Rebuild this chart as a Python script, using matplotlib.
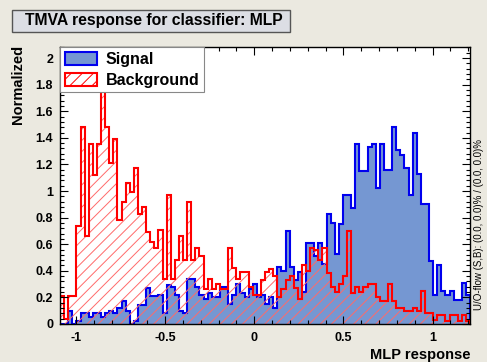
import numpy as np
import matplotlib.pyplot as plt
from matplotlib.patches import Patch, Rectangle
from matplotlib.ticker import MultipleLocator, FuncFormatter

plt.rcParams['font.family'] = ['Liberation Sans', 'DejaVu Sans']
plt.rcParams['font.weight'] = 'bold'
plt.rcParams['axes.unicode_minus'] = False
plt.rcParams['hatch.linewidth'] = 0.7

# MLP output, 100 bins, each histogram normalised to unit area
x_lo, x_hi = -1.09, 1.21
n_bins = 100

signal = [
    0.00, 0.00, 0.10, 0.00, 0.02, 0.08, 0.08, 0.05, 0.08, 0.08,
    0.05, 0.08, 0.10, 0.08, 0.12, 0.17, 0.10, 0.00, 0.02, 0.14,
    0.14, 0.27, 0.21, 0.21, 0.22, 0.08, 0.29, 0.28, 0.22, 0.10,
    0.08, 0.34, 0.34, 0.28, 0.22, 0.19, 0.23, 0.20, 0.20, 0.28,
    0.28, 0.15, 0.22, 0.30, 0.23, 0.20, 0.26, 0.30, 0.20, 0.22,
    0.15, 0.20, 0.12, 0.43, 0.40, 0.70, 0.43, 0.33, 0.39, 0.24,
    0.61, 0.61, 0.51, 0.61, 0.45, 0.83, 0.76, 0.53, 0.75, 0.97,
    0.97, 0.87, 1.35, 1.15, 1.15, 1.33, 1.35, 1.02, 1.35, 1.16,
    1.16, 1.48, 1.31, 1.27, 1.17, 0.97, 1.44, 1.13, 0.90, 0.90,
    0.47, 0.22, 0.44, 0.25, 0.22, 0.25, 0.18, 0.18, 0.31, 0.22,
]
background = [
    0.21, 0.04, 0.21, 0.21, 0.74, 1.48, 0.66, 1.35, 1.12, 1.35,
    1.75, 1.48, 1.21, 1.39, 0.78, 0.92, 1.06, 0.99, 1.17, 0.83,
    0.88, 0.69, 0.62, 0.57, 0.71, 0.34, 0.97, 0.34, 0.48, 0.66,
    0.48, 0.92, 0.48, 0.57, 0.51, 0.26, 0.34, 0.26, 0.30, 0.26,
    0.26, 0.57, 0.42, 0.34, 0.39, 0.39, 0.28, 0.22, 0.22, 0.33,
    0.39, 0.41, 0.36, 0.20, 0.26, 0.33, 0.36, 0.27, 0.19, 0.44,
    0.40, 0.57, 0.56, 0.48, 0.57, 0.38, 0.28, 0.24, 0.30, 0.36,
    0.70, 0.23, 0.28, 0.24, 0.28, 0.30, 0.30, 0.20, 0.17, 0.17,
    0.30, 0.17, 0.12, 0.12, 0.10, 0.10, 0.12, 0.10, 0.25, 0.08,
    0.08, 0.03, 0.07, 0.07, 0.02, 0.07, 0.07, 0.02, 0.07, 0.02,
]
edges = np.linspace(x_lo, x_hi, n_bins + 1)

sig_fill = '#7597d2'
sig_line = '#0000ee'
bkg_line = '#ff0000'
bkg_hatch = '#ff6a6a'

fig = plt.figure(figsize=(4.87, 3.62), dpi=100, facecolor='#ebe9e0')
ax = fig.add_axes([60 / 487, 38 / 362, 410 / 487, 277 / 362])
ax.set_facecolor('white')

# signal: filled, background: hatched on top
ax.stairs(signal, edges, fill=True, facecolor=sig_fill, linewidth=0)
ax.stairs(signal, edges, color=sig_line, linewidth=1.5, baseline=0)
ax.stairs(background, edges, fill=True, facecolor='none',
          edgecolor=bkg_hatch, hatch='///', linewidth=0)
ax.stairs(background, edges, color=bkg_line, linewidth=1.5, baseline=0)

ax.set_xlim(x_lo, x_hi)
ax.set_ylim(0, 2.083)

fmt = FuncFormatter(lambda v, pos: '%g' % round(v, 3))
ax.xaxis.set_major_locator(MultipleLocator(0.5))
ax.xaxis.set_minor_locator(MultipleLocator(0.1))
ax.yaxis.set_major_locator(MultipleLocator(0.2))
ax.yaxis.set_minor_locator(MultipleLocator(0.04))
ax.xaxis.set_major_formatter(fmt)
ax.yaxis.set_major_formatter(fmt)
ax.tick_params(which='both', direction='in', top=True, right=True,
               labelsize=9, width=0.8)
ax.tick_params(which='major', length=6)
ax.tick_params(which='minor', length=3)
ax.tick_params(axis='x', pad=6)
ax.tick_params(axis='y', pad=5)
for lab in ax.get_xticklabels() + ax.get_yticklabels():
    lab.set_fontweight('bold')
for sp in ax.spines.values():
    sp.set_linewidth(1.0)

handles = [
    Patch(facecolor=sig_fill, edgecolor=sig_line, linewidth=1.5, label='Signal'),
    Patch(facecolor='white', edgecolor=bkg_line, hatch='///', linewidth=1.5,
          label='Background'),
]
leg = ax.legend(handles=handles, loc='upper left', bbox_to_anchor=(0, 1),
                borderaxespad=0, fancybox=False, framealpha=1,
                edgecolor='#888888', handlelength=2.0,
                handleheight=0.9, handletextpad=0.55, labelspacing=0.35,
                borderpad=0.3, prop={'weight': 'bold', 'size': 11.5})
leg.get_frame().set_linewidth(0.8)

# title box
fig.patches.append(Rectangle((12 / 487, 1 - 32 / 362), 278 / 487, 22 / 362,
                             transform=fig.transFigure, facecolor='#dcdee4',
                             edgecolor='#555555', linewidth=1.0))
fig.text(25 / 487, 1 - 21 / 362, 'TMVA response for classifier: MLP',
         fontsize=11.3, fontweight='bold', ha='left', va='center')

fig.text(18 / 487, 1 - 45 / 362, 'Normalized', rotation=90, fontsize=10.5,
         fontweight='bold', ha='center', va='top')
fig.text(470 / 487, 1 - 355 / 362, 'MLP response', fontsize=10.5,
         fontweight='bold', ha='right', va='center')
fig.text(479 / 487, 1 - 225 / 362,
         'U/O-flow (S,B): (0.0, 0.0)% / (0.0, 0.0)%', rotation=90,
         fontsize=7, fontweight='normal', ha='center', va='center')

fig.savefig('out.png', dpi=100, facecolor=fig.get_facecolor())
